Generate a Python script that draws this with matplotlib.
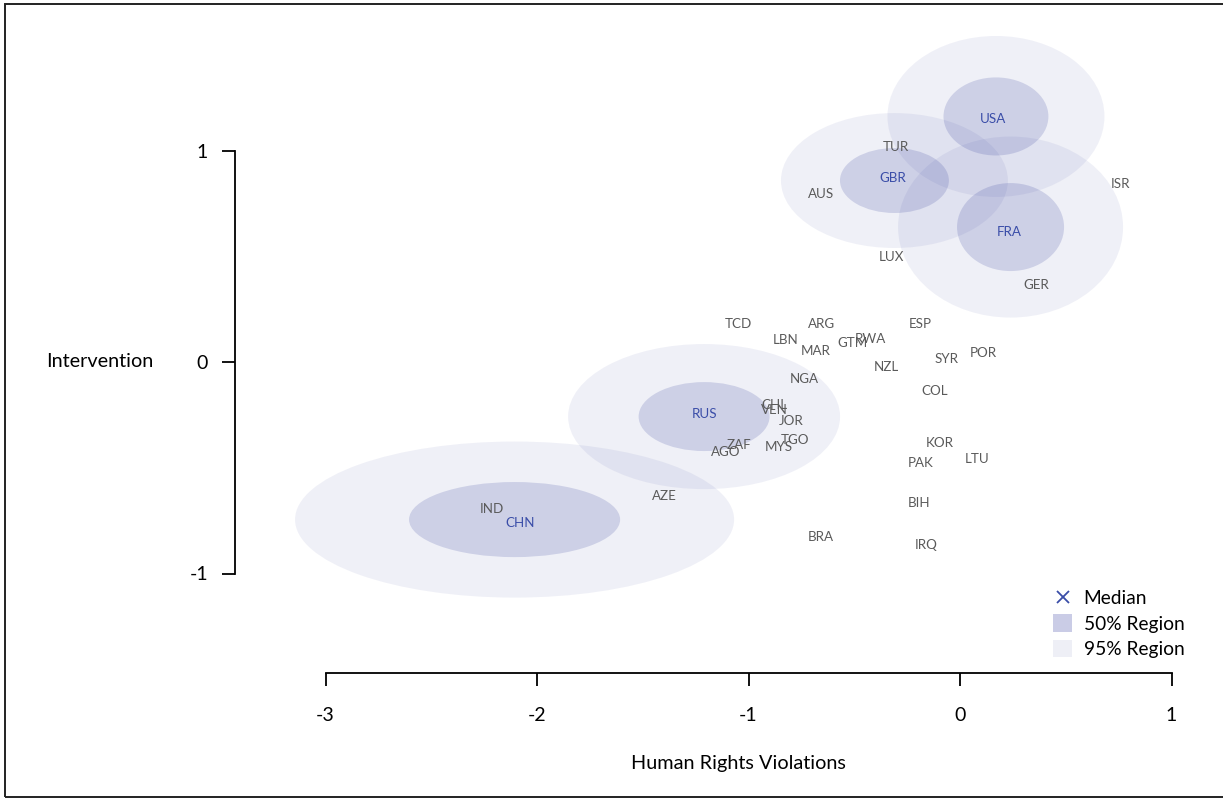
import matplotlib
matplotlib.use('Agg')
import matplotlib.pyplot as plt
from matplotlib.patches import Ellipse, Rectangle, Patch
from matplotlib.lines import Line2D

plt.rcParams['font.family'] = ['Lato', 'DejaVu Sans']

# ---- data -------------------------------------------------------------
other_codes = ['TUR', 'AUS', 'LUX', 'ISR', 'GER', 'TCD', 'ARG', 'ESP', 'LBN',
               'RWA', 'GTM', 'MAR', 'POR', 'SYR', 'NZL', 'NGA', 'COL', 'CHL',
               'VEN', 'JOR', 'TGO', 'ZAF', 'MYS', 'AGO', 'KOR', 'PAK', 'LTU',
               'AZE', 'BIH', 'BRA', 'IRQ', 'IND']
other_x = [-0.303, -0.657, -0.326, 0.761, 0.359, -1.050, -0.657, -0.189, -0.823,
           -0.426, -0.506, -0.681, 0.110, -0.063, -0.347, -0.736, -0.118, -0.879,
           -0.879, -0.800, -0.780, -1.046, -0.856, -1.108, -0.095, -0.186, 0.079,
           -1.400, -0.194, -0.657, -0.161, -2.213]
other_y = [1.017, 0.794, 0.496, 0.842, 0.364, 0.180, 0.180, 0.180, 0.104,
           0.110, 0.091, 0.053, 0.044, 0.013, -0.022, -0.080, -0.136, -0.205,
           -0.227, -0.280, -0.369, -0.394, -0.400, -0.426, -0.384, -0.479, -0.460,
           -0.634, -0.667, -0.827, -0.865, -0.695]

focus_codes = ['USA', 'GBR', 'FRA', 'RUS', 'CHN']
focus_x = [0.156, -0.317, 0.232, -1.210, -2.080]
focus_y = [1.149, 0.870, 0.615, -0.246, -0.761]

region_cx = [0.170, -0.310, 0.239, -1.210, -2.106]
region_cy = [1.161, 0.858, 0.638, -0.258, -0.745]
r95_w = [1.026, 1.073, 1.064, 1.286, 2.076]
r95_h = [0.761, 0.638, 0.856, 0.686, 0.738]
r50_w = [0.496, 0.515, 0.506, 0.619, 0.998]
r50_h = [0.369, 0.307, 0.416, 0.326, 0.355]

x_ticks = [-3, -2, -1, 0, 1]
y_ticks = [-1, 0, 1]

# ---- style --------------------------------------------------------------
base = '#3C46A0'
a95, a50 = 0.08, 0.19
blue_txt = '#3A4DA8'
gray_txt = '#5A5A5A'

W, H = 1223, 798
fig = plt.figure(figsize=(W / 100, H / 100), dpi=100)
ax = fig.add_axes([0, 0, 1, 1])
ax.patch.set_visible(False)

s = 211.5  # pixels per unit
ax.set_xlim((0 - 960) / s, (W - 960) / s)
ax.set_ylim((362 - H) / s, 362 / s)

for cx, cy, w, h in zip(region_cx, region_cy, r95_w, r95_h):
    ax.add_patch(Ellipse((cx, cy), w, h, facecolor=base, alpha=a95,
                         edgecolor='none', zorder=1))
for cx, cy, w, h in zip(region_cx, region_cy, r50_w, r50_h):
    ax.add_patch(Ellipse((cx, cy), w, h, facecolor=base, alpha=a50,
                         edgecolor='none', zorder=2))

for c, x, y in zip(other_codes, other_x, other_y):
    ax.text(x, y, c, color=gray_txt, fontsize=9.6, ha='center', va='center',
            zorder=3)
for c, x, y in zip(focus_codes, focus_x, focus_y):
    ax.text(x, y, c, color=blue_txt, fontsize=9.6, ha='center', va='center',
            zorder=3)

# axes (R style, detached)
for sp in ['top', 'right']:
    ax.spines[sp].set_visible(False)
ax.spines['left'].set_position(('data', (235 - 960) / s))
ax.spines['bottom'].set_position(('data', (362 - 673) / s))
ax.spines['left'].set_bounds(-1, 1)
ax.spines['bottom'].set_bounds(-3, 1)
for sp in ['left', 'bottom']:
    ax.spines[sp].set_linewidth(1.3)
    ax.spines[sp].set_color('black')
ax.set_xticks(x_ticks)
ax.set_yticks(y_ticks)
ax.set_xticklabels([str(t) for t in x_ticks])
ax.set_yticklabels([str(t) for t in y_ticks])
ax.tick_params(axis='both', direction='out', length=9.4, width=1.3,
               labelsize=14)
ax.tick_params(axis='x', pad=15)
ax.tick_params(axis='y', pad=10)

fig.text(99.5 / W, 1 - 362 / H, 'Intervention', fontsize=14.3,
         ha='center', va='center')
fig.text(738.5 / W, 1 - 763 / H, 'Human Rights Violations', fontsize=14.3,
         ha='center', va='center')

# legend
c50 = '#CACCE6'
c95 = '#EEEFF6'
handles = [Line2D([], [], marker='x', ls='', color=blue_txt, markersize=9,
                  markeredgewidth=1.3),
           Patch(facecolor=c50, edgecolor='none'),
           Patch(facecolor=c95, edgecolor='none')]
ax.legend(handles, ['Median', '50% Region', '95% Region'], frameon=False,
          loc='upper left', bbox_to_anchor=(1053 / W, 1 - 589 / H),
          bbox_transform=fig.transFigure, fontsize=13.8, borderpad=0,
          borderaxespad=0, handlelength=1.0, handleheight=1.0,
          handletextpad=0.6, labelspacing=0.38)

# figure frame
fig.patches.append(Rectangle((5 / W, 1 - 797 / H), 1.2, (797 - 4) / H,
                             transform=fig.transFigure, fill=False,
                             edgecolor='#222222', linewidth=1.4, zorder=10))

fig.savefig('out.png', dpi=100)
